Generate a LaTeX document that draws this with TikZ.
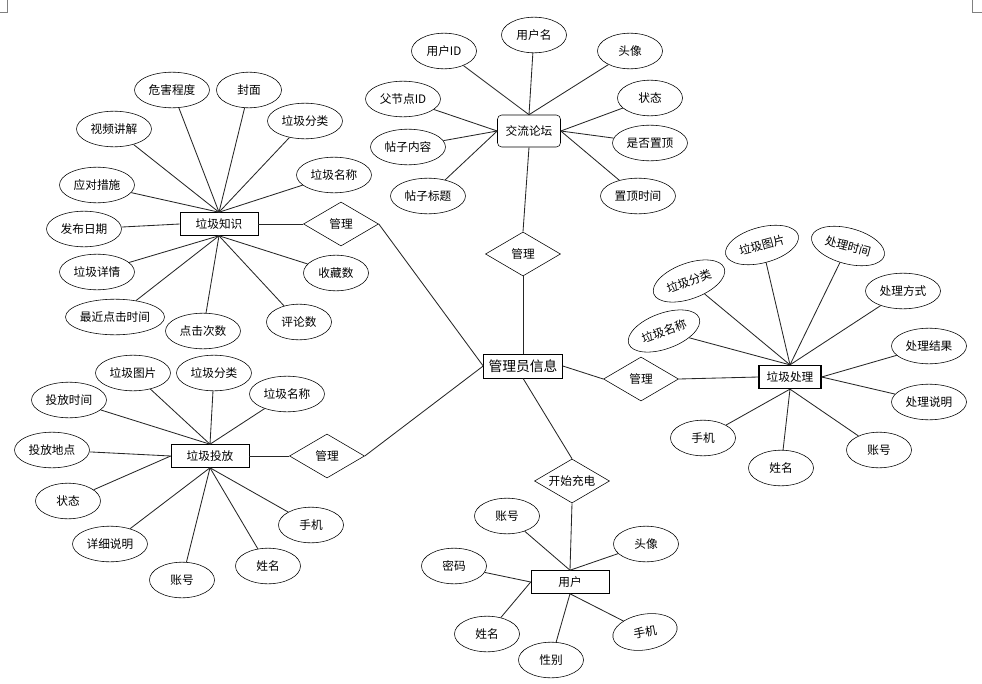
\documentclass[tikz,border=0pt]{standalone}
\usepackage{fontspec}
\setmainfont{Noto Sans CJK SC}
\usetikzlibrary{shapes.geometric}

\begin{document}
\begin{tikzpicture}[
        x=0.025cm, y=-0.025cm,
        every node/.style={font=\fontsize{8.3}{10}\selectfont},
        entity/.style={draw, rectangle, minimum width=1.95cm, minimum height=0.575cm, inner sep=1pt},
        attr/.style={draw, ellipse, minimum width=1.625cm, minimum height=0.89cm, inner sep=0pt},
        attrw/.style={attr, minimum width=1.875cm},
        rel/.style={draw, diamond, aspect=1.7, minimum width=1.875cm, minimum height=1.1cm, inner sep=0pt},
        link/.style={black!85, line width=0.6pt}
    ]
        \useasboundingbox (0,0) rectangle (982,684);
        % Page corner marks
        \draw[gray, line width=0.6pt] (7,0) -- (7,12) -- (0,12);
        \draw[gray, line width=0.6pt] (972,0) -- (972,12) -- (982,12);

        % Entities
        \node[entity] (zs) at (219,224) {垃圾知识};
        \node[entity, rounded corners=3pt, minimum width=1.575cm, minimum height=0.8cm] (lt) at (529,131) {交流论坛};
        \node[entity, minimum width=1.975cm, minimum height=0.6cm, font=\fontsize{9.8}{11}\selectfont] (gly) at (523,366) {管理员信息};
        \node[entity, minimum width=1.55cm, line width=0.9pt] (cl) at (790,377) {垃圾处理};
        \node[entity] (tf) at (210,456) {垃圾投放};
        \node[entity] (yh) at (570,582) {用户};

        % Relations
        \node[rel] (gl1) at (341,224) {管理};
        \node[rel] (gl2) at (523,254) {管理};
        \node[rel] (gl3) at (641,379) {管理};
        \node[rel] (gl4) at (327,456) {管理};
        \node[rel] (kscd) at (572,481) {开始充电};

        % 垃圾知识
        \node[attrw] (zs-whcd) at (172,90) {危害程度};
        \node[attr] (zs-fm) at (249,90) {封面};
        \node[attrw] (zs-spjj) at (114,129) {视频讲解};
        \node[attrw] (zs-ljfl) at (305,121) {垃圾分类};
        \node[attrw] (zs-ljmc) at (334,175) {垃圾名称};
        \node[attrw] (zs-ydcs) at (97,185) {应对措施};
        \node[attrw] (zs-fbrq) at (84,229) {发布日期};
        \node[attrw] (zs-ljxq) at (97,272) {垃圾详情};
        \node[attr, minimum width=2.475cm] (zs-zjdj) at (115,317) {最近点击时间};
        \node[attrw] (zs-djcs) at (203,331) {点击次数};
        \node[attr] (zs-pls) at (299,322) {评论数};
        \node[attr] (zs-scs) at (336,273) {收藏数};

        % 交流论坛
        \node[attr] (lt-yhid) at (444,51) {用户ID};
        \node[attr] (lt-yhm) at (534,35) {用户名};
        \node[attr] (lt-tx) at (630,51) {头像};
        \node[attrw] (lt-fjd) at (403,99) {父节点ID};
        \node[attr] (lt-zt) at (650,98) {状态};
        \node[attrw] (lt-tznr) at (408,147) {帖子内容};
        \node[attrw] (lt-sfzd) at (650,143) {是否置顶};
        \node[attrw] (lt-tzbt) at (428,196) {帖子标题};
        \node[attrw] (lt-zdsj) at (638,196) {置顶时间};

        % 垃圾处理
        \node[attrw, rotate=20] (cl-mc) at (664,331) {垃圾名称};
        \node[attrw, rotate=20] (cl-fl) at (689,281) {垃圾分类};
        \node[attrw, rotate=15] (cl-tp) at (762,245) {垃圾图片};
        \node[attrw, rotate=-15] (cl-clsj) at (848,246) {处理时间};
        \node[attrw] (cl-clfs) at (903,291) {处理方式};
        \node[attrw] (cl-cljg) at (929,346) {处理结果};
        \node[attrw] (cl-clsm) at (929,402) {处理说明};
        \node[attr] (cl-zh) at (879,450) {账号};
        \node[attr] (cl-xm) at (781,468) {姓名};
        \node[attr] (cl-sj) at (703,438) {手机};

        % 垃圾投放
        \node[attrw] (tf-tp) at (133,373) {垃圾图片};
        \node[attrw] (tf-fl) at (214,373) {垃圾分类};
        \node[attrw] (tf-mc) at (287,394) {垃圾名称};
        \node[attrw] (tf-tfsj) at (69,400) {投放时间};
        \node[attrw] (tf-tfdd) at (52,450) {投放地点};
        \node[attr] (tf-zt) at (68,501) {状态};
        \node[attrw] (tf-xxsm) at (110,544) {详细说明};
        \node[attr] (tf-zh) at (182,580) {账号};
        \node[attr] (tf-xm) at (268,566) {姓名};
        \node[attr] (tf-sj) at (311,525) {手机};

        % 用户
        \node[attr] (yh-zh) at (507,516) {账号};
        \node[attr] (yh-tx) at (646,544) {头像};
        \node[attr] (yh-mm) at (454,566) {密码};
        \node[attr] (yh-xm) at (487,634) {姓名};
        \node[attr] (yh-xb) at (551,660) {性别};
        \node[attr, rotate=10] (yh-sj) at (645,632) {手机};

        % Attribute links
        \foreach \a in {whcd,fm,spjj,ljfl,ljmc,ydcs} \draw[link] (zs-\a) -- (zs.north);
        \draw[link] (zs-fbrq) -- (zs.west);
        \foreach \a in {ljxq,zjdj,djcs,pls,scs} \draw[link] (zs-\a) -- (zs.south);
        \foreach \a in {yhid,yhm,tx} \draw[link] (lt-\a) -- (lt.north);
        \foreach \a in {fjd,tznr,tzbt} \draw[link] (lt-\a) -- (lt.west);
        \foreach \a in {zt,sfzd,zdsj} \draw[link] (lt-\a) -- (lt.east);
        \foreach \a in {mc,fl,tp,clsj,clfs} \draw[link] (cl-\a) -- (cl.north);
        \foreach \a in {cljg,clsm} \draw[link] (cl-\a) -- (cl.east);
        \foreach \a in {sj,xm,zh} \draw[link] (cl-\a) -- (cl.south);
        \foreach \a in {tp,fl,mc,tfsj} \draw[link] (tf-\a) -- (tf.north);
        \foreach \a in {tfdd,zt} \draw[link] (tf-\a) -- (tf.west);
        \foreach \a in {xxsm,zh,xm,sj} \draw[link] (tf-\a) -- (tf.south);
        \foreach \a in {zh,tx} \draw[link] (yh-\a) -- (yh.north);
        \foreach \a in {mm,xm} \draw[link] (yh-\a) -- (yh.west);
        \foreach \a in {xb,sj} \draw[link] (yh-\a) -- (yh.south);

        % Relation links
        \draw[link] (zs.east) -- (gl1.west);
        \draw[link] (gl1.east) -- (gly.west);
        \draw[link] (lt.south) -- (gl2.north);
        \draw[link] (gl2.south) -- (gly.north);
        \draw[link] (gly.east) -- (gl3.west);
        \draw[link] (gl3.east) -- (cl.west);
        \draw[link] (tf.east) -- (gl4.west);
        \draw[link] (gl4.east) -- (gly.west);
        \draw[link] (gly.south) -- (kscd.north);
        \draw[link] (kscd.south) -- (yh.north);
    \end{tikzpicture}
\end{document}
